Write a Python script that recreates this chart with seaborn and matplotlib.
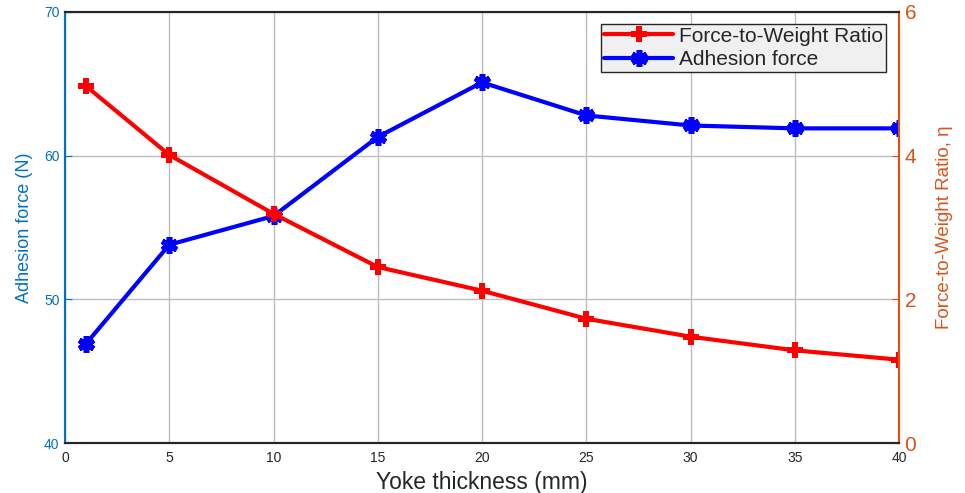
import matplotlib
matplotlib.use("Agg")
import matplotlib.pyplot as plt
import seaborn as sns
import pandas as pd

sns.set_style("white")
plt.rcParams['font.family'] = ['Liberation Sans', 'DejaVu Sans']

thickness = [1, 5, 10, 15, 20, 25, 30, 35, 40]
adhesion_force = [46.9, 53.8, 55.8, 61.3, 65.1, 62.8, 62.1, 61.9, 61.9]
fw_ratio = [4.97, 4.01, 3.19, 2.45, 2.12, 1.73, 1.48, 1.29, 1.16]
x_ticks = [0, 5, 10, 15, 20, 25, 30, 35, 40]
left_ticks = [40, 50, 60, 70]
right_ticks = [0, 2, 4, 6]

df = pd.DataFrame({"t": thickness, "F": adhesion_force, "r": fw_ratio})

LEFT_C = "#0072BD"
RIGHT_C = "#D95319"

fig = plt.figure(figsize=(9.65, 4.93), dpi=100)
ax = fig.add_axes([0.0674, 0.1014, 0.8642, 0.8743])
ax2 = ax.twinx()

star = (6, 2, 0)
sns.lineplot(data=df, x="t", y="F", ax=ax, color="blue", lw=3,
             marker=star, markersize=12, markeredgewidth=4,
             markeredgecolor="blue", label="Adhesion force", legend=False)
sns.lineplot(data=df, x="t", y="r", ax=ax2, color="red", lw=3,
             marker="P", markersize=12, markeredgewidth=0,
             label="Force-to-Weight Ratio", legend=False)

ax.set_xlim(0, 40)
ax.set_ylim(40, 70)
ax2.set_ylim(0, 6)
ax.set_xticks(x_ticks)
ax.set_yticks(left_ticks)
ax2.set_yticks(right_ticks)

ax.grid(True, color="#bdbdbd", lw=1)
ax.set_axisbelow(True)

ax.set_xlabel("Yoke thickness (mm)", fontsize=16.5, color="#262626", labelpad=4)
ax.set_ylabel("Adhesion force (N)", fontsize=13, color=LEFT_C, labelpad=8)
ax2.set_ylabel("Force-to-Weight Ratio, η", fontsize=13.5, color=RIGHT_C, labelpad=14)

ax.tick_params(axis="x", labelsize=10, colors="#262626", direction="in", length=5, pad=6)
ax.tick_params(axis="y", labelsize=10, colors=LEFT_C, direction="in", length=5, pad=4)
ax2.tick_params(axis="y", labelsize=15, colors=RIGHT_C, direction="in", length=5, pad=4)

for a in (ax, ax2):
    a.spines["top"].set_color("#262626")
    a.spines["bottom"].set_color("#262626")
    a.spines["left"].set_color(LEFT_C)
    a.spines["right"].set_color(RIGHT_C)
    for s in a.spines.values():
        s.set_linewidth(1.5)

h1, l1 = ax.get_legend_handles_labels()
h2, l2 = ax2.get_legend_handles_labels()
leg = ax2.legend(h2 + h1, l2 + l1, loc="upper right", bbox_to_anchor=(0.985, 0.973),
                 fontsize=15, frameon=True, fancybox=False, handlelength=3.3,
                 borderpad=0.15, labelspacing=0.2, handletextpad=0.3,
                 borderaxespad=0)
leg.get_frame().set_facecolor("#f0f0f0")
leg.get_frame().set_edgecolor("#262626")
leg.get_frame().set_alpha(1)

fig.savefig("out.png", dpi=100)
